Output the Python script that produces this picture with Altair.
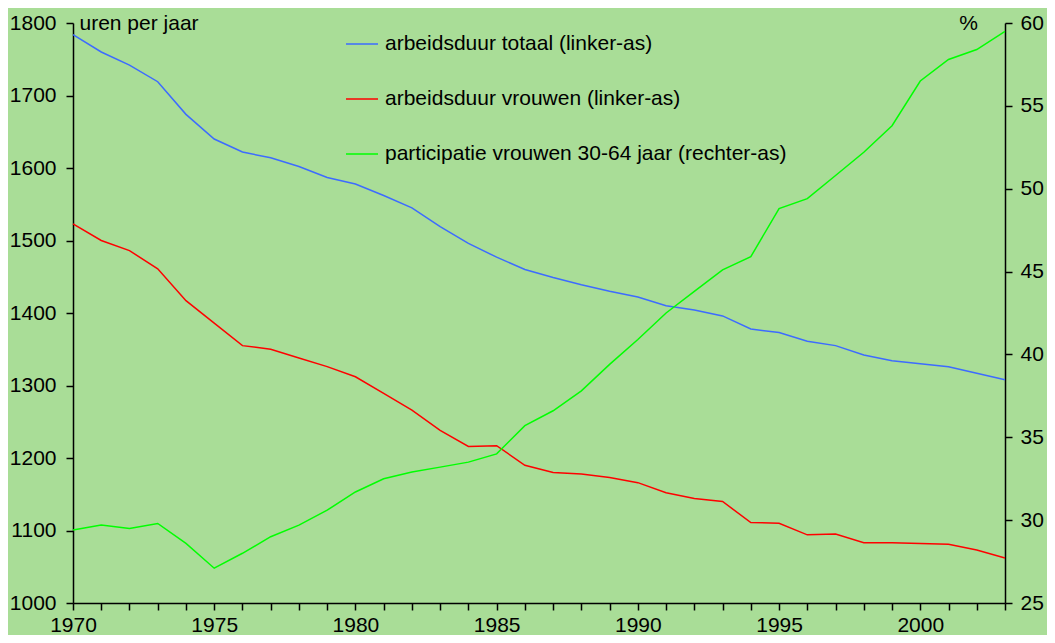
import altair as alt
import pandas as pd

years = list(range(1970, 2004))

totaal = [1784, 1760, 1742, 1719, 1674, 1640, 1622, 1614, 1602, 1587,
          1578, 1562, 1545, 1519, 1496, 1477, 1460, 1449, 1439, 1430,
          1422, 1410, 1404, 1396, 1378, 1373, 1361, 1355, 1342, 1334,
          1330, 1326, 1317, 1308]

vrouwen = [1523, 1500, 1486, 1461, 1417, 1386, 1355, 1350, 1338, 1326,
           1312, 1289, 1266, 1238, 1216, 1217, 1190, 1180, 1178, 1173,
           1166, 1152, 1144, 1140, 1111, 1110, 1094, 1095, 1083, 1083,
           1082, 1081, 1073, 1062]

participatie = [29.4, 29.7, 29.5, 29.8, 28.6, 27.1, 28.0, 29.0, 29.7, 30.6,
                31.7, 32.5, 32.9, 33.2, 33.5, 34.0, 35.7, 36.6, 37.8, 39.4,
                40.9, 42.5, 43.8, 45.1, 45.9, 48.8, 49.4, 50.8, 52.2, 53.8,
                56.5, 57.8, 58.4, 59.5]

series_names = ["arbeidsduur totaal (linker-as)",
                "arbeidsduur vrouwen (linker-as)",
                "participatie vrouwen 30-64 jaar (rechter-as)"]
series_colors = ["#3D6BFF", "#FF0000", "#00FF00"]

left_ticks = list(range(1000, 1801, 100))
right_ticks = list(range(25, 61, 5))

FONT = "Liberation Sans"
BG = "#A9DD97"

df_left = pd.DataFrame({
    "jaar": years * 2,
    "uren": totaal + vrouwen,
    "reeks": [series_names[0]] * len(years) + [series_names[1]] * len(years),
})
df_right = pd.DataFrame({
    "jaar": years,
    "pct": participatie,
    "reeks": [series_names[2]] * len(years),
})

color_scale = alt.Scale(domain=series_names, range=series_colors)
legend = alt.Legend(
    title=None, orient="none", legendX=272, legendY=4,
    symbolType="stroke", symbolSize=1024, symbolStrokeWidth=1.5,
    labelFontSize=21, labelFont=FONT, labelColor="black",
    rowPadding=28, padding=0, labelOffset=6, labelLimit=600,
)

x_enc = alt.X(
    "jaar:Q",
    scale=alt.Scale(domain=[1970, 2003], nice=False, zero=False),
    axis=alt.Axis(
        values=years, format="d", title=None,
        labelExpr="datum.value % 5 == 0 ? datum.label : ''",
        tickSize=7, labelPadding=4, grid=False, ticks=True,
        labelFlush=False, labelOverlap=False,
    ),
)

left = alt.Chart(df_left).mark_line(strokeWidth=1.5).encode(
    x=x_enc,
    y=alt.Y(
        "uren:Q",
        scale=alt.Scale(domain=[1000, 1800], nice=False, zero=False),
        axis=alt.Axis(
            values=left_ticks, format="d", orient="left", grid=False, tickSize=7,
            title="uren per jaar", titleAngle=0, titleAlign="left",
            titleBaseline="middle", titleX=6, titleY=0, labelPadding=10,
            labelFlush=False,
        ),
    ),
    color=alt.Color("reeks:N", scale=color_scale, legend=legend),
)

right = alt.Chart(df_right).mark_line(strokeWidth=1.5).encode(
    x=x_enc,
    y=alt.Y(
        "pct:Q",
        scale=alt.Scale(domain=[25, 60], nice=False, zero=False),
        axis=alt.Axis(
            values=right_ticks, format="d", orient="right", grid=False, tickSize=7,
            title="%", titleAngle=0, titleAlign="center",
            titleBaseline="middle", titleX=-37, titleY=0, labelPadding=8,
            labelFlush=False,
        ),
    ),
    color=alt.Color("reeks:N", scale=color_scale, legend=legend),
)

chart = alt.layer(left, right).resolve_scale(y="independent").properties(
    width=932, height=580,
    autosize=alt.AutoSizeParams(type="none"),
    padding={"left": 65, "top": 15, "right": 42, "bottom": 32},
    background=BG,
).configure_view(
    stroke=None, fill=BG,
).configure_axis(
    domainColor="black", tickColor="black", domainWidth=1.5, tickWidth=1.5,
    labelFont=FONT, labelFontSize=21, labelColor="black",
    titleFont=FONT, titleFontSize=21, titleFontWeight="normal", titleColor="black",
)

chart.save("out.html", embed_options={"renderer": "svg", "actions": False})
